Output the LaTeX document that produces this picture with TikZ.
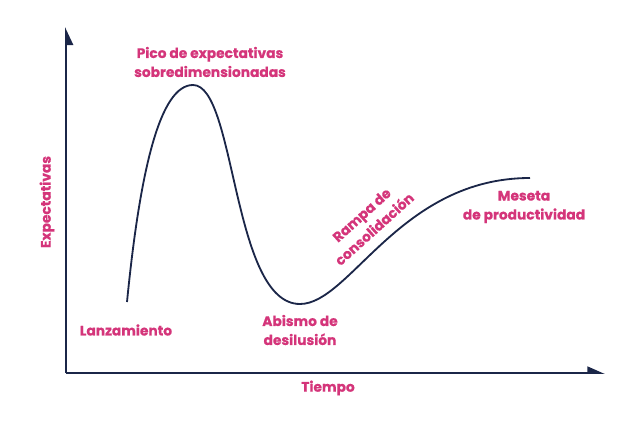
\documentclass[tikz,border=0pt]{standalone}
\usepackage{fontspec}
\setmainfont{Poppins}[BoldFont={Poppins Bold}, BoldFeatures={FakeBold=0.6}]
\usetikzlibrary{arrows.meta,positioning}
\definecolor{tinta}{HTML}{1B2648}
\definecolor{rosa}{HTML}{D4357A}

\begin{document}
\begin{tikzpicture}[x=0.025cm, y=-0.025cm,
eje/.style={tinta, line width=1.4pt},
curva/.style={tinta, line width=1.3pt},
fase/.style={rosa, font=\bfseries\fontsize{9.8}{13.5}\selectfont, align=center, inner sep=0pt}]

\useasboundingbox (0,0) rectangle (640,428);

% ejes
\coordinate (O) at (66,373);
\coordinate (ytop) at (66,27);
\coordinate (xend) at (605,373);
\draw[eje, -{Triangle[right, length=0.4cm, width=0.36cm]}] (O) -- (ytop);
\draw[eje, -{Triangle[left, length=0.38cm, width=0.32cm]}] (O) -- (xend);

% curva de expectativas
\coordinate (inicio) at (127,302);
\coordinate (cima) at (193,85);
\coordinate (fondo) at (300,304);
\coordinate (fin) at (530,178);
\draw[curva] (inicio) .. controls (140,170) and (160,85) .. (cima)
  .. controls (236,85) and (232,304) .. (fondo)
  .. controls (350,304) and (400,178) .. (fin);

% etapas
\node[fase] (pico) at (210,62) {Pico de expectativas\\sobredimensionadas};
\node[fase] (lanz) at (126,330) {Lanzamiento};
\node[fase] (abismo) at (300,330) {Abismo de\\desilusión};
\node[fase, rotate=42] (rampa) at (368,222) {Rampa de\\consolidación};
\node[fase] (meseta) at (524,207) {Meseta\\de productividad};

% rotulos de ejes
\node[fase, rotate=90] (expect) at (47,202) {Expectativas};
\node[fase] (tiempo) at (328,388) {Tiempo};

\end{tikzpicture}
\end{document}
